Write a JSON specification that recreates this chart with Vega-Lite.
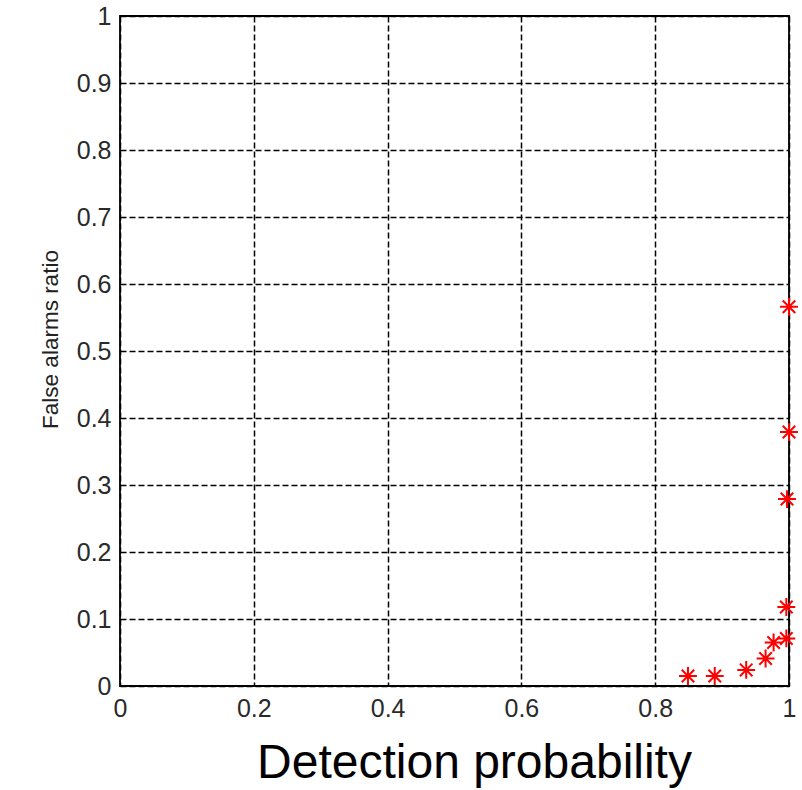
{
  "$schema": "https://vega.github.io/schema/vega-lite/v6.json",
  "width": 669,
  "height": 670,
  "autosize": "none",
  "padding": {"left": 120, "top": 16, "right": 13, "bottom": 104},
  "background": "white",
  "config": {
    "view": {"stroke": "#000000", "strokeWidth": 1.8},
    "font": "Liberation Sans"
  },
  "data": {
    "values": [
      {"pd": 0.849, "far": 0.015},
      {"pd": 0.889, "far": 0.015},
      {"pd": 0.936, "far": 0.024},
      {"pd": 0.965, "far": 0.041},
      {"pd": 0.977, "far": 0.065},
      {"pd": 0.996, "far": 0.071},
      {"pd": 0.996, "far": 0.118},
      {"pd": 0.997, "far": 0.279},
      {"pd": 1.0, "far": 0.379},
      {"pd": 1.0, "far": 0.566}
    ]
  },
  "mark": {
    "type": "point",
    "shape": "M-1,0L1,0M0,-1L0,1M-0.7,-0.7L0.7,0.7M-0.7,0.7L0.7,-0.7",
    "filled": false,
    "stroke": "#ff0000",
    "strokeWidth": 2,
    "size": 320,
    "opacity": 1,
    "clip": false
  },
  "encoding": {
    "x": {
      "field": "pd",
      "type": "quantitative",
      "scale": {"domain": [0, 1], "nice": false, "zero": false},
      "axis": {
        "title": "Detection probability",
        "values": [0, 0.2, 0.4, 0.6, 0.8, 1],
        "format": "~g",
        "domain": false,
        "ticks": false,
        "grid": true,
        "gridColor": "#000000",
        "gridDash": [6, 3],
        "gridWidth": 1.5,
        "gridOpacity": 1,
        "labelFont": "Liberation Sans",
        "labelFontSize": 25,
        "labelColor": "#2a2a2a",
        "labelPadding": 10,
        "labelFlush": false,
        "titleFont": "Liberation Sans",
        "titleFontSize": 48,
        "titleFontWeight": "normal",
        "titleColor": "#000000",
        "titleX": 354,
        "titleY": 91,
        "titleAlign": "center",
        "titleBaseline": "alphabetic"
      }
    },
    "y": {
      "field": "far",
      "type": "quantitative",
      "scale": {"domain": [0, 1], "nice": false, "zero": false},
      "axis": {
        "title": "False alarms ratio",
        "values": [0, 0.1, 0.2, 0.3, 0.4, 0.5, 0.6, 0.7, 0.8, 0.9, 1],
        "format": "~g",
        "domain": false,
        "ticks": false,
        "grid": true,
        "gridColor": "#000000",
        "gridDash": [6, 3],
        "gridWidth": 1.5,
        "gridOpacity": 1,
        "labelFont": "Liberation Sans",
        "labelFontSize": 25,
        "labelColor": "#2a2a2a",
        "labelPadding": 9,
        "labelFlush": false,
        "titleFont": "Liberation Sans",
        "titleFontSize": 22.5,
        "titleFontWeight": "normal",
        "titleColor": "#222222",
        "titleX": -70,
        "titleY": 323,
        "titleAngle": 270,
        "titleAlign": "center",
        "titleBaseline": "middle"
      }
    }
  }
}
